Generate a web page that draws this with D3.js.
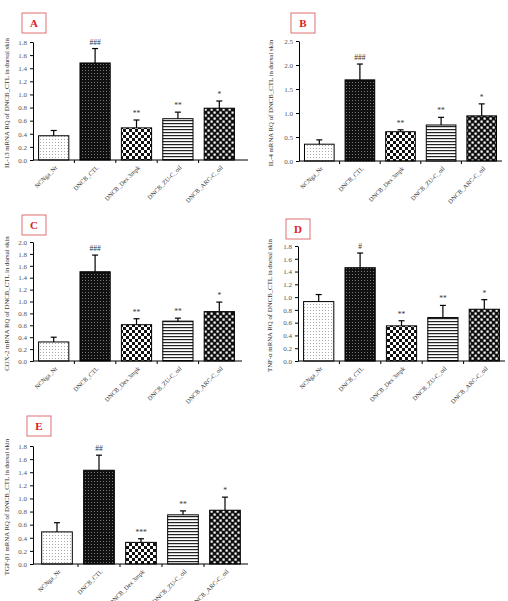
<!DOCTYPE html>
<meta charset="utf-8">
<html>
<head>
  <script src="https://cdn.jsdelivr.net/npm/d3@7"></script>
  <style>
    body { margin: 0; background: #fff; }
    text { font-family: 'Liberation Serif', 'DejaVu Serif', serif; }
    .tick text { fill: #555; font-size: 7px; }
    .domain, .tick line { stroke: #000; stroke-width: 1; }
  </style>
</head>
<body>
  <script>
    // Data
    var categories = ["NCNga_Nr", "DNCB_CTL", "DNCB_Dex 3mpk", "DNCB_ZU-C_oil", "DNCB_ARC-C_oil"];

    var il13Mean = [0.37, 1.48, 0.49, 0.63, 0.79];
    var il13Err  = [0.08, 0.22, 0.12, 0.10, 0.11];
    var il13Sig  = ["", "###", "**", "**", "*"];

    var il4Mean = [0.35, 1.69, 0.61, 0.75, 0.94];
    var il4Err  = [0.09, 0.33, 0.04, 0.16, 0.25];
    var il4Sig  = ["", "###", "**", "**", "*"];

    var cox2Mean = [0.32, 1.50, 0.61, 0.67, 0.83];
    var cox2Err  = [0.08, 0.28, 0.10, 0.05, 0.16];
    var cox2Sig  = ["", "###", "**", "**", "*"];

    var tnfMean = [0.93, 1.46, 0.55, 0.68, 0.81];
    var tnfErr  = [0.11, 0.23, 0.08, 0.19, 0.15];
    var tnfSig  = ["", "#", "**", "**", "*"];

    var tgfMean = [0.49, 1.43, 0.33, 0.75, 0.82];
    var tgfErr  = [0.14, 0.23, 0.055, 0.06, 0.20];
    var tgfSig  = ["", "##", "***", "**", "*"];

    var ticks18 = [0, 0.2, 0.4, 0.6, 0.8, 1.0, 1.2, 1.4, 1.6, 1.8];
    var ticks20 = [0, 0.2, 0.4, 0.6, 0.8, 1.0, 1.2, 1.4, 1.6, 1.8, 2.0];
    var ticks25 = [0, 0.5, 1.0, 1.5, 2.0, 2.5];

    //Panel layout
    var panels = [
      { letter: "A", mean: il13Mean, err: il13Err, sig: il13Sig, ticks: ticks18,
        title: "IL-13 mRNA RQ of DNCB_CTL in dorsal skin",
        ax: 33, x0: 33, x1: 240, xEnd: 248, yTop: 42, yBot: 160, box: [22, 13], tx: 6 },
      { letter: "B", mean: il4Mean, err: il4Err, sig: il4Sig, ticks: ticks25,
        title: "IL-4 mRNA RQ of DNCB_CTL in dorsal skin",
        ax: 299, x0: 299, x1: 502, xEnd: 502, yTop: 41, yBot: 161, box: [291, 13], tx: 270 },
      { letter: "C", mean: cox2Mean, err: cox2Err, sig: cox2Sig, ticks: ticks20,
        title: "COX-2 mRNA RQ of DNCB_CTL in dorsal skin",
        ax: 33, x0: 33, x1: 240, xEnd: 242, yTop: 242, yBot: 361, box: [22, 215], tx: 6 },
      { letter: "D", mean: tnfMean, err: tnfErr, sig: tnfSig, ticks: ticks18,
        title: "TNF-α mRNA RQ of DNCB_CTL in dorsal skin",
        ax: 298, x0: 298, x1: 505, xEnd: 505, yTop: 246, yBot: 361, box: [286, 219], tx: 269 },
      { letter: "E", mean: tgfMean, err: tgfErr, sig: tgfSig, ticks: ticks18,
        title: "TGF-β1 mRNA RQ of DNCB_CTL in dorsal skin",
        ax: 33, x0: 36, x1: 246, xEnd: 248, yTop: 446, yBot: 564, box: [27, 416], tx: 6 }
    ];

    var svg = d3.select("body").append("svg")
      .attr("width", 508)
      .attr("height", 601);

    //Fill patterns
    var defs = svg.append("defs");

    var p = defs.append("pattern").attr("id", "pNC").attr("patternUnits", "userSpaceOnUse")
      .attr("width", 3).attr("height", 3);
    p.append("rect").attr("width", 3).attr("height", 3).attr("fill", "#fff");
    p.append("rect").attr("x", 1).attr("y", 1).attr("width", 1).attr("height", 1).attr("fill", "#aaa");

    p = defs.append("pattern").attr("id", "pCTL").attr("patternUnits", "userSpaceOnUse")
      .attr("width", 3).attr("height", 3);
    p.append("rect").attr("width", 3).attr("height", 3).attr("fill", "#111");
    p.append("rect").attr("x", 1).attr("y", 1).attr("width", 1).attr("height", 1).attr("fill", "#777");

    p = defs.append("pattern").attr("id", "pDex").attr("patternUnits", "userSpaceOnUse")
      .attr("width", 6).attr("height", 6);
    p.append("rect").attr("width", 6).attr("height", 6).attr("fill", "#fff");
    p.append("rect").attr("width", 3).attr("height", 3).attr("fill", "#111");
    p.append("rect").attr("x", 3).attr("y", 3).attr("width", 3).attr("height", 3).attr("fill", "#111");

    p = defs.append("pattern").attr("id", "pZU").attr("patternUnits", "userSpaceOnUse")
      .attr("width", 3).attr("height", 3);
    p.append("rect").attr("width", 3).attr("height", 3).attr("fill", "#fff");
    p.append("rect").attr("y", 0).attr("width", 3).attr("height", 1.2).attr("fill", "#222");

    p = defs.append("pattern").attr("id", "pARC").attr("patternUnits", "userSpaceOnUse")
      .attr("width", 6).attr("height", 6);
    p.append("rect").attr("width", 6).attr("height", 6).attr("fill", "#111");
    p.append("rect").attr("x", 0.5).attr("y", 0.5).attr("width", 2.2).attr("height", 2.2).attr("fill", "#fff");
    p.append("rect").attr("x", 3.5).attr("y", 3.5).attr("width", 2.2).attr("height", 2.2).attr("fill", "#fff");

    var fills = ["url(#pNC)", "url(#pCTL)", "url(#pDex)", "url(#pZU)", "url(#pARC)"];

    panels.forEach(function(cfg) {
      var g = svg.append("g");

      var x = d3.scaleBand()
        .domain(categories)
        .range([cfg.x0, cfg.x1])
        .paddingInner(0.27)
        .paddingOuter(0.135);

      var y = d3.scaleLinear()
        .domain([0, d3.max(cfg.ticks)])
        .range([cfg.yBot, cfg.yTop]);

      //Bars
      g.selectAll(".bar")
        .data(cfg.mean)
        .enter().append("rect")
        .attr("x", (d, i) => x(categories[i]))
        .attr("y", d => y(d))
        .attr("width", x.bandwidth())
        .attr("height", d => y(0) - y(d))
        .attr("fill", (d, i) => fills[i])
        .attr("stroke", "#000")
        .attr("stroke-width", 1);

      //Error bars
      cfg.mean.forEach(function(m, i) {
        var cx = x(categories[i]) + x.bandwidth() / 2;
        var top = y(m + cfg.err[i]);
        g.append("line").attr("x1", cx).attr("x2", cx)
          .attr("y1", y(m)).attr("y2", top)
          .attr("stroke", "#000").attr("stroke-width", 1.2);
        g.append("line").attr("x1", cx - 3).attr("x2", cx + 3)
          .attr("y1", top).attr("y2", top)
          .attr("stroke", "#000").attr("stroke-width", 1.2);
        if (cfg.sig[i]) {
          g.append("text")
            .attr("x", cx).attr("y", top - 4)
            .attr("text-anchor", "middle")
            .attr("font-size", "7.5px")
            .attr("fill", "#333")
            .text(cfg.sig[i]);
        }
      });

      //Y axis
      g.append("g")
        .attr("transform", `translate(${cfg.ax},0)`)
        .call(d3.axisLeft(y)
          .tickValues(cfg.ticks)
          .tickFormat(d3.format(".1f"))
          .tickSize(3)
          .tickSizeOuter(0)
          .tickPadding(3));

      //X axis
      g.append("line")
        .attr("x1", cfg.ax).attr("x2", cfg.xEnd)
        .attr("y1", cfg.yBot).attr("y2", cfg.yBot)
        .attr("stroke", "#000");
      var step = x.step();
      categories.slice(1).forEach(function(c) {
        var bx = x(c) - (step - x.bandwidth()) / 2;
        g.append("line").attr("x1", bx).attr("x2", bx)
          .attr("y1", cfg.yBot).attr("y2", cfg.yBot + 3)
          .attr("stroke", "#000");
      });

      g.selectAll(".xl")
        .data(categories)
        .enter().append("text")
        .attr("transform", c => `translate(${x(c) + x.bandwidth() / 2 + 4},${cfg.yBot + 8}) rotate(-45)`)
        .attr("text-anchor", "end")
        .attr("font-size", "6.3px")
        .attr("fill", "#333")
        .text(c => c);

      //Y title
      g.append("text")
        .attr("transform", `translate(${cfg.tx},${(cfg.yTop + cfg.yBot) / 2 + 2}) rotate(-90)`)
        .attr("text-anchor", "middle")
        .attr("dominant-baseline", "central")
        .attr("font-size", "6.8px")
        .attr("fill", "#333")
        .text(cfg.title);

      //Panel letter
      g.append("rect")
        .attr("x", cfg.box[0]).attr("y", cfg.box[1])
        .attr("width", 24).attr("height", 20)
        .attr("fill", "#fff")
        .attr("stroke", "#e07070")
        .attr("stroke-width", 1);
      g.append("text")
        .attr("x", cfg.box[0] + 12).attr("y", cfg.box[1] + 14)
        .attr("text-anchor", "middle")
        .attr("font-size", "11px")
        .attr("font-weight", "bold")
        .attr("fill", "#e02020")
        .text(cfg.letter);
    });
  </script>
</body>
</html>
